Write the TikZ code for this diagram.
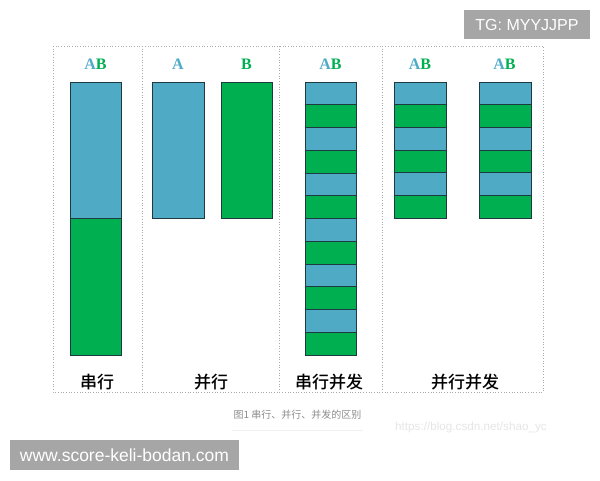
\documentclass[tikz,border=0pt]{standalone}
\usepackage{fontspec}
\setmainfont{Liberation Serif}
\newfontfamily\cjk{Noto Sans CJK SC}
\newfontfamily\cjkm{Noto Sans CJK SC Medium}
\newfontfamily\arialf{Liberation Sans}
\definecolor{barblue}{HTML}{4FAAC6}
\definecolor{bargreen}{HTML}{00B050}
\definecolor{barline}{HTML}{1E3A40}
\definecolor{frame}{HTML}{AAAAAA}
\definecolor{wmbox}{HTML}{A6A6A6}
\tikzset{
  barb/.style={fill=barblue, draw=barline, line width=0.8pt},
  barg/.style={fill=bargreen, draw=barline, line width=0.8pt},
  framel/.style={draw=frame, dotted, line width=0.7pt},
  toplbl/.style={font=\fontsize{16}{16}\selectfont\bfseries, inner sep=0pt},
  botlbl/.style={font=\cjkm\fontsize{17}{17}\selectfont, inner sep=0pt},
}
\begin{document}
\begin{tikzpicture}[x=1pt,y=-1pt]
\useasboundingbox (0,0) rectangle (600,480);
% frame
\draw[framel] (53,46) rectangle (543,392);
\draw[framel] (142,46) -- (142,392);
\draw[framel] (279,46) -- (279,392);
\draw[framel] (382,46) -- (382,392);
% column 1: serial
\draw[barb] (70,82) rectangle (121,218);
\draw[barg] (70,218) rectangle (121,355);
% column 2: parallel
\draw[barb] (152,82) rectangle (204,218);
\draw[barg] (221,82) rectangle (272,218);
% column 3: serial concurrent
\foreach \i in {0,...,11}{
  \pgfmathsetmacro{\ya}{82+\i*22.75}
  \pgfmathsetmacro{\yb}{82+(\i+1)*22.75}
  \ifodd\i
    \draw[barg] (305,\ya) rectangle (356,\yb);
  \else
    \draw[barb] (305,\ya) rectangle (356,\yb);
  \fi
}
% column 4: parallel concurrent
\foreach \x in {394,479}{
  \foreach \i in {0,...,5}{
    \pgfmathsetmacro{\ya}{82+\i*22.667}
    \pgfmathsetmacro{\yb}{82+(\i+1)*22.667}
    \ifodd\i
      \draw[barg] (\x,\ya) rectangle (\x+52,\yb);
    \else
      \draw[barb] (\x,\ya) rectangle (\x+52,\yb);
    \fi
  }
}
% top labels
\node[toplbl] (t1) at (95.5,64) {\textcolor{barblue}{A}\textcolor{bargreen}{B}};
\node[toplbl, text=barblue] (t2) at (178,64) {A};
\node[toplbl, text=bargreen] (t3) at (246.5,64) {B};
\node[toplbl] (t4) at (330.5,64) {\textcolor{barblue}{A}\textcolor{bargreen}{B}};
\node[toplbl] (t5) at (420,64) {\textcolor{barblue}{A}\textcolor{bargreen}{B}};
\node[toplbl] (t6) at (504.5,64) {\textcolor{barblue}{A}\textcolor{bargreen}{B}};
% bottom labels
\node[botlbl] (b1) at (97,382) {串行};
\node[botlbl] (b2) at (211,382) {并行};
\node[botlbl] (b3) at (329,382) {串行并发};
\node[botlbl] (b4) at (465,382) {并行并发};
% caption
\node[font=\cjk\fontsize{10}{10}\selectfont, text=black!45, inner sep=0pt] (cap) at (297.5,415) {图1 串行、并行、并发的区别};
\draw[black!6, line width=0.8pt] (232,430) -- (363,430);
\node[font=\arialf\fontsize{11.7}{12}\selectfont, text=black!10, inner sep=0pt] (url) at (471,427) {https://blog.csdn.net/shao\_yc};
% watermark boxes
\node[fill=wmbox, text=white, font=\arialf\fontsize{16}{16}\selectfont, minimum width=126pt, minimum height=29pt, inner sep=0pt] (tg) at (527,24.5) {TG: MYYJJPP};
\node[fill=wmbox, text=white, font=\arialf\fontsize{17.5}{17.5}\selectfont, minimum width=229pt, minimum height=30pt, inner sep=0pt] (www) at (124.5,455) {www.score-keli-bodan.com};
\end{tikzpicture}
\end{document}
